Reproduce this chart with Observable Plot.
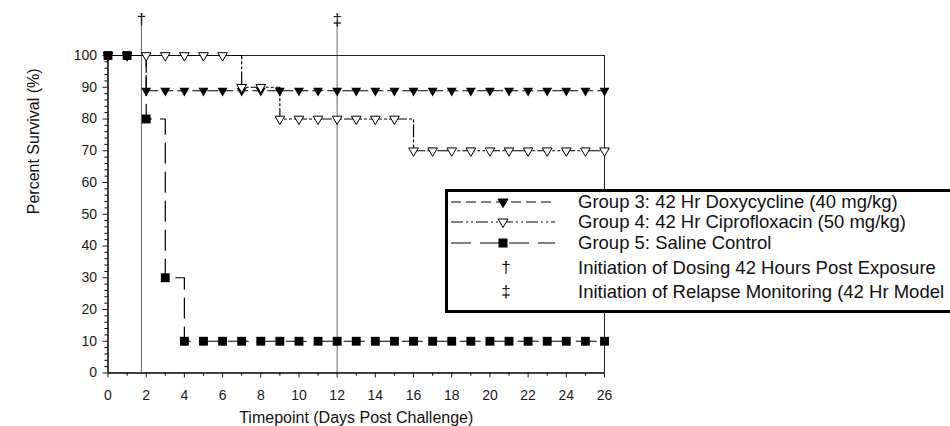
<!DOCTYPE html>
<html>
<head>
<meta charset="utf-8">
<script src="https://cdn.jsdelivr.net/npm/d3@7"></script>
<script src="https://cdn.jsdelivr.net/npm/@observablehq/plot@0.6"></script>
<style>
  html, body { margin: 0; padding: 0; background: #fff; overflow: hidden; }
  #wrap { position: relative; width: 950px; height: 426px; overflow: hidden; font-family: "Liberation Sans", Arial, sans-serif; }
  #legend { position: absolute; left: 445px; top: 189px; width: 540px; height: 124px; box-sizing: border-box; border: 3px solid #000; background: #fff; }
  .row { position: absolute; left: 0; height: 20px; }
  .row svg { position: absolute; left: 3px; top: 0; }
  .row .lbl { position: absolute; left: 130px; top: 0; line-height: 20px; font-size: 18.5px; color: #111; white-space: nowrap; }
  .row .sym { position: absolute; left: 45px; width: 26px; text-align: center; top: 0; line-height: 20px; font-size: 17px; color: #111; }
</style>
</head>
<body>
<div id="wrap"></div>
<script>
// ---- data ----
const days = [0,1,2,3,4,5,6,7,8,9,10,11,12,13,14,15,16,17,18,19,20,21,22,23,24,25,26];
const doxycycline = [100,100,88.9,88.9,88.9,88.9,88.9,88.9,88.9,88.9,88.9,88.9,88.9,88.9,88.9,88.9,88.9,88.9,88.9,88.9,88.9,88.9,88.9,88.9,88.9,88.9,88.9];
const ciprofloxacin = [100,100,100,100,100,100,100,90,90,80,80,80,80,80,80,80,70,70,70,70,70,70,70,70,70,70,70];
const saline = [100,100,80,30,10,10,10,10,10,10,10,10,10,10,10,10,10,10,10,10,10,10,10,10,10,10,10];
const seriesNames = ["Group 3: 42 Hr Doxycycline (40 mg/kg)", "Group 4: 42 Hr Ciprofloxacin (50 mg/kg)", "Group 5: Saline Control"];
const refDays = [1.75, 12];
const refSymbols = ["†", "‡"];
const refLabels = ["Initiation of Dosing 42 Hours Post Exposure", "Initiation of Relapse Monitoring (42 Hr Model"];
const xTicks = [0,2,4,6,8,10,12,14,16,18,20,22,24,26];
const xMinor = [1,3,5,7,9,11,13,15,17,19,21,23,25];
const yTicks = [0,10,20,30,40,50,60,70,80,90,100];
const yMinor = [2,4,6,8,12,14,16,18,22,24,26,28,32,34,36,38,42,44,46,48,52,54,56,58,62,64,66,68,72,74,76,78,82,84,86,88,92,94,96,98];
const xLabel = "Timepoint (Days Post Challenge)";
const yLabel = "Percent Survival (%)";

// ---- tables ----
const mk = (vals) => days.map((d, i) => ({day: d, value: vals[i]}));
const g3 = mk(doxycycline), g4 = mk(ciprofloxacin), g5 = mk(saline);
const refs = refDays.map((d, i) => ({day: d, symbol: refSymbols[i]}));

// inverted triangle symbol
const triDown = {
  draw(context, size) {
    const y = -Math.sqrt(size / (Math.sqrt(3) * 3));
    context.moveTo(0, -y * 2);
    context.lineTo(-Math.sqrt(3) * y, y);
    context.lineTo(Math.sqrt(3) * y, y);
    context.closePath();
  }
};

const dash3 = "10,5";
const dash4 = "12,3,2,3,2,3";
const dash5 = "20,9";

const chart = Plot.plot({
  width: 950,
  height: 426,
  marginLeft: 107.5,
  marginRight: 346,
  marginTop: 55,
  marginBottom: 53.5,
  style: {fontFamily: "'Liberation Sans', Arial, sans-serif", fontSize: "14px", color: "#1a1a1a", background: "white", overflow: "visible"},
  x: {domain: [0, 26], ticks: xTicks, tickSize: 5, tickPadding: 12, label: null},
  y: {domain: [0, 100], ticks: yTicks, tickSize: 5, tickPadding: 6, label: null},
  marks: [
    Plot.ruleX(refs, {x: "day", insetTop: -36, stroke: "#666", strokeWidth: 1}),
    Plot.text(refs, {x: "day", text: "symbol", frameAnchor: "top", dy: -43, fontSize: 17, fill: "#111"}),
    Plot.ruleY([100], {stroke: "#222", strokeWidth: 1}),
    Plot.ruleX([26], {stroke: "#222", strokeWidth: 1}),
    Plot.line(g4, {x: "day", y: "value", curve: "step-after", stroke: "#000", strokeWidth: 1.2, strokeDasharray: dash4}),
    Plot.line(g3, {x: "day", y: "value", curve: "step-after", stroke: "#000", strokeWidth: 1.2, strokeDasharray: dash3}),
    Plot.line(g5, {x: "day", y: "value", curve: "step-after", stroke: "#000", strokeWidth: 1.2, strokeDasharray: dash5}),
    Plot.dot(g3, {x: "day", y: "value", symbol: triDown, r: 3.7, fill: "#000", stroke: "none"}),
    Plot.dot(g4, {x: "day", y: "value", symbol: triDown, r: 3.6, fill: "#fff", stroke: "#000", strokeWidth: 1}),
    Plot.dot(g5, {x: "day", y: "value", symbol: "square", r: 5, fill: "#000", stroke: "none"}),
    Plot.ruleY([0], {stroke: "#000", strokeWidth: 1.5}),
    Plot.ruleX([0], {stroke: "#000", strokeWidth: 1.5}),
    Plot.ruleX(xMinor, {x: d => d, y1: 0, y2: -1, stroke: "#000", strokeWidth: 1}),
    Plot.ruleY(yMinor, {y: d => d, x1: 0, x2: -0.16, stroke: "#000", strokeWidth: 1}),
    Plot.text([xLabel], {frameAnchor: "bottom", dy: 50, fontSize: 16, fill: "#111"}),
    Plot.text([yLabel], {frameAnchor: "left", dx: -74, rotate: -90, fontSize: 16, fill: "#111"})
  ]
});

const wrap = document.getElementById("wrap");
wrap.appendChild(chart);

// ---- legend (HTML overlay) ----
const legend = document.createElement("div");
legend.id = "legend";
wrap.appendChild(legend);
const rowTops = [0, 20, 41, 66, 90];
const ns = "http://www.w3.org/2000/svg";
function sample(dash, kind) {
  const svg = document.createElementNS(ns, "svg");
  svg.setAttribute("width", 104); svg.setAttribute("height", 20);
  const line = document.createElementNS(ns, "line");
  line.setAttribute("x1", 0); line.setAttribute("x2", 104);
  line.setAttribute("y1", 10); line.setAttribute("y2", 10);
  line.setAttribute("stroke", "#000"); line.setAttribute("stroke-width", 1.2);
  line.setAttribute("stroke-dasharray", dash);
  svg.appendChild(line);
  const cx = 52, cy = 10;
  let m;
  if (kind === "sq") {
    m = document.createElementNS(ns, "rect");
    m.setAttribute("x", cx - 4.5); m.setAttribute("y", cy - 4.5);
    m.setAttribute("width", 9); m.setAttribute("height", 9); m.setAttribute("fill", "#000");
  } else {
    m = document.createElementNS(ns, "path");
    m.setAttribute("d", `M${cx - 5},${cy - 3} L${cx + 5},${cy - 3} L${cx},${cy + 5.5} Z`);
    m.setAttribute("fill", kind === "filled" ? "#000" : "#fff");
    m.setAttribute("stroke", "#000"); m.setAttribute("stroke-width", 1);
  }
  svg.appendChild(m);
  return svg;
}
const samples = [[dash3, "filled"], [dash4, "open"], [dash5, "sq"]];
seriesNames.forEach((name, i) => {
  const row = document.createElement("div");
  row.className = "row"; row.style.top = rowTops[i] + "px"; row.style.width = "530px";
  row.appendChild(sample(samples[i][0], samples[i][1]));
  const lbl = document.createElement("div"); lbl.className = "lbl"; lbl.textContent = name;
  row.appendChild(lbl);
  legend.appendChild(row);
});
refLabels.forEach((name, i) => {
  const row = document.createElement("div");
  row.className = "row"; row.style.top = rowTops[3 + i] + "px"; row.style.width = "530px";
  const sym = document.createElement("div"); sym.className = "sym"; sym.textContent = refSymbols[i];
  row.appendChild(sym);
  const lbl = document.createElement("div"); lbl.className = "lbl"; lbl.textContent = name;
  row.appendChild(lbl);
  legend.appendChild(row);
});
</script>
</body>
</html>
